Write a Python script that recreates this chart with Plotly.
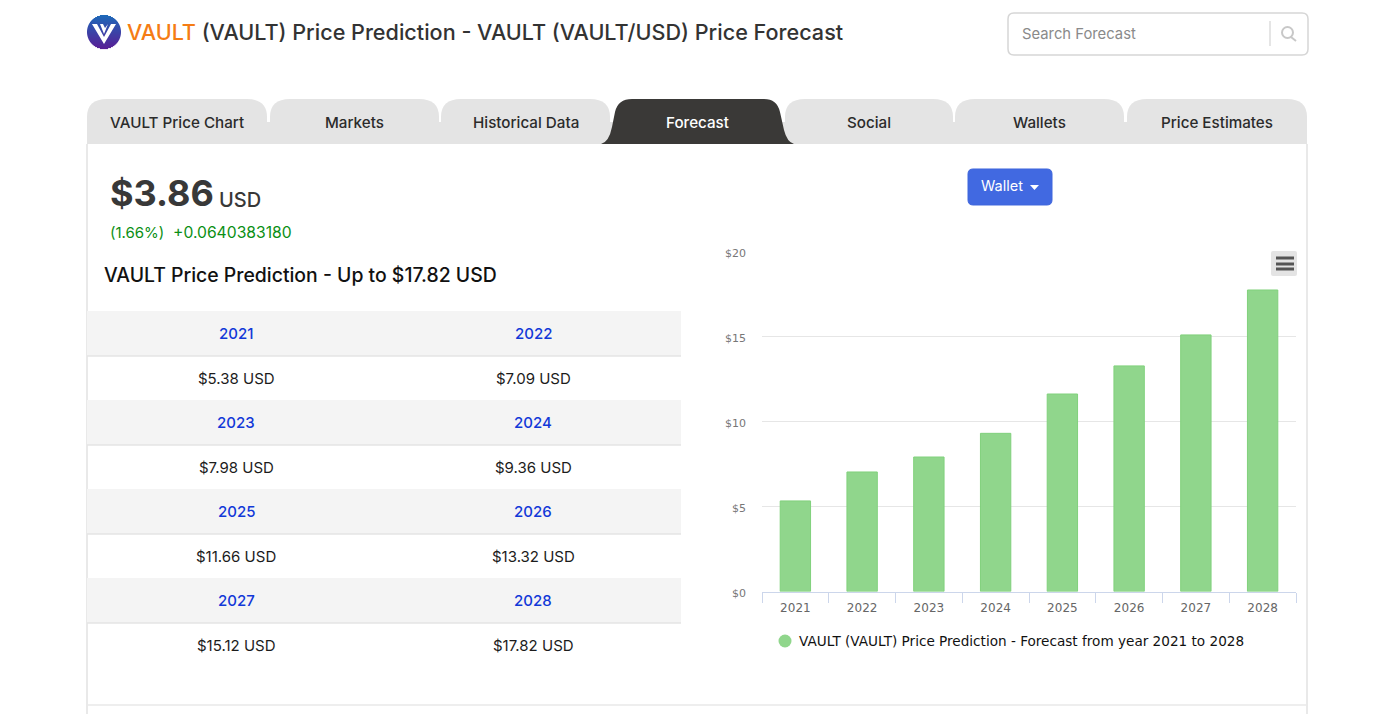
import plotly.graph_objs as go

W = 1400
H = 714

years = ['2021', '2022', '2023', '2024', '2025', '2026', '2027', '2028']
table_prices = [5.38, 7.09, 7.98, 9.36, 11.66, 13.32, 15.12, 17.82]
# bar heights, they sit a little under the table figures
bar_values = [5.32, 7.02, 7.90, 9.29, 11.60, 13.25, 15.07, 17.71]
tab_names = ['VAULT Price Chart', 'Markets', 'Historical Data', 'Forecast', 'Social', 'Wallets', 'Price Estimates']
tab_lefts = [87, 270, 441, 612, 785, 955, 1127]
tab_rights = [267, 439, 610, 782, 953, 1124, 1307]
y_ticks = [0, 5, 10, 15, 20]
y_tick_labels = ['$0', '$5', '$10', '$15', '$20']
legend_name = 'VAULT (VAULT) Price Prediction - Forecast from year 2021 to 2028'

FONT = 'Inter'
CHART_FONT = 'DejaVu Sans'
GREEN = '#90d68c'


def px(x):
    return x / W


def py(y):
    return 1 - y / H


def path(*parts):
    # letters stay, (x, y) pairs in page pixels become paper fractions
    out = []
    for p in parts:
        if isinstance(p, str):
            out.append(p)
        else:
            out.append('%.5f,%.5f' % (px(p[0]), py(p[1])))
    return ' '.join(out)


shapes = []
annotations = []


def add_rect(x0, y0, x1, y1, fill, line=None, width=1):
    shapes.append(dict(type='rect', xref='paper', yref='paper', x0=px(x0), x1=px(x1), y0=py(y0), y1=py(y1),
                       fillcolor=fill, line=dict(color=line, width=width if line else 0), layer='below'))


def add_line(x0, y0, x1, y1, color, width=1):
    shapes.append(dict(type='line', xref='paper', yref='paper', x0=px(x0), x1=px(x1), y0=py(y0), y1=py(y1),
                       line=dict(color=color, width=width), layer='below'))


def add_path(d, fill, line=None, width=1, layer='below'):
    shapes.append(dict(type='path', xref='paper', yref='paper', path=d, fillcolor=fill,
                       line=dict(color=line, width=width if line else 0), layer=layer))


def add_text(x, y, text, size, color, anchor='center', weight=400, family=FONT):
    annotations.append(dict(xref='paper', yref='paper', x=px(x), y=py(y), text=text, showarrow=False,
                            xanchor=anchor, yanchor='middle', borderpad=0,
                            font=dict(family=family, size=size, color=color, weight=weight)))


def round_box(x0, y0, x1, y1, r):
    return path('M', (x0 + r, y0), 'L', (x1 - r, y0), 'Q', (x1, y0), (x1, y0 + r), 'L', (x1, y1 - r),
                'Q', (x1, y1), (x1 - r, y1), 'L', (x0 + r, y1), 'Q', (x0, y1), (x0, y1 - r), 'L', (x0, y0 + r),
                'Q', (x0, y0), (x0 + r, y0), 'Z')


# panel border
add_line(87, 144, 87, 714, '#e2e2e2', 1.5)
add_line(1307, 144, 1307, 714, '#e2e2e2', 1.5)
add_line(87, 705, 1307, 705, '#e8e8e8', 1.5)

# logo, shapes have no gradient so it is built from thin strips
logo_top = (29, 104, 184)
logo_bottom = (88, 30, 150)
for k in range(34):
    y0 = 15 + k
    mid = y0 + 0.5 - 32
    half = max(17 ** 2 - mid ** 2, 0) ** 0.5
    mix = k / 33
    col = tuple(round(a + (b - a) * mix) for a, b in zip(logo_top, logo_bottom))
    add_rect(104 - half, y0, 104 + half, y0 + 1.1, 'rgb%s' % (col,))
add_path(path('M', (92, 24), 'L', (97, 24), 'L', (104, 37), 'L', (111, 24), 'L', (116, 24), 'L', (104, 44), 'Z'), '#ffffff')
add_path(path('M', (100, 24), 'L', (103, 24), 'L', (105, 28), 'L', (108, 24), 'L', (104, 34), 'Z'), '#ffffff')

# title
add_text(126, 32, '<span style="color:#f57c14">VAULT</span> (VAULT) Price Prediction - VAULT (VAULT/USD) Price Forecast',
         21.6, '#333333', 'left', 500)

# search box
shapes.append(dict(type='path', xref='paper', yref='paper', path=round_box(1008, 13, 1308, 55, 6),
                   fillcolor='#ffffff', line=dict(color='#d6d6d6', width=1.5), layer='below'))
add_line(1270, 21, 1270, 46, '#dddddd', 1.5)
add_text(1021, 34, 'Search Forecast', 14.8, '#8a8a8a', 'left')
shapes.append(dict(type='circle', xref='paper', yref='paper', x0=px(1282), x1=px(1293), y0=py(27), y1=py(38),
                   fillcolor='rgba(0,0,0,0)', line=dict(color='#c8c8c8', width=2), layer='below'))
add_line(1291, 37, 1296, 41, '#c8c8c8', 2)

# tabs
for name, x0, x1 in zip(tab_names, tab_lefts, tab_rights):
    if name == 'Forecast':
        continue
    add_path(path('M', (x0, 144), 'L', (x0, 117), 'Q', (x0, 99), (x0 + 20, 99), 'L', (x1 - 20, 99),
                  'Q', (x1, 99), (x1, 117), 'L', (x1, 144), 'Z'), '#e4e4e4')
add_rect(87, 122, 1307, 144, '#e4e4e4')
add_path(path('M', (601, 144), 'Q', (609, 142), (612, 127), 'L', (615, 112), 'Q', (618, 99), (632, 99),
              'L', (764, 99), 'Q', (777, 99), (780, 112), 'L', (784, 130), 'Q', (787, 142), (794, 144), 'Z'), '#3a3937')
for name, x0, x1 in zip(tab_names, tab_lefts, tab_rights):
    add_text((x0 + x1) / 2, 122, name, 15.2,
             '#ffffff' if name == 'Forecast' else '#2b2b2b', 'center', 500)

# price header
add_text(109, 193, '$3.86', 36, '#383838', 'left', 700)
add_text(218, 200, 'USD', 20, '#383838', 'left', 500)
add_text(109, 233, '(1.66%)', 15, '#0b8f14', 'left')
add_text(172, 233, '+' + '0.0640383180', 15.7, '#0b8f14', 'left')
add_text(103, 275, 'VAULT Price Prediction - Up to $%.2f USD' % table_prices[-1], 19.4, '#111111', 'left', 500)

# price table, two years per row
for i in range(0, len(years), 2):
    row = i // 2
    top = 311 + row * 89
    add_rect(87, top, 681, top + 45, '#f4f4f4')
    add_line(87, top + 45, 681, top + 45, '#e4e4e4', 1.5)
    for j, cx in enumerate([236, 533]):
        add_text(cx, top + 22, years[i + j], 15, '#1238d8', 'center', 500)
        add_text(cx, top + 67, '$%.2f USD' % table_prices[i + j], 15, '#1c1c1c')

# wallet button
shapes.append(dict(type='path', xref='paper', yref='paper', path=round_box(968, 169, 1052, 205, 5),
                   fillcolor='#4169e1', line=dict(color='#3f66dc', width=1), layer='below'))
add_text(1002, 186, 'Wallet', 14.5, '#ffffff')
add_path(path('M', (1030, 185), 'L', (1039, 185), 'L', (1034.5, 190), 'Z'), '#ffffff')

# chart menu icon
add_path(round_box(1271, 251, 1297, 276, 2), '#e4e4e4', layer='above')
for y in [258, 264, 269]:
    add_line(1276, y, 1294, y, '#555555', 3)
    shapes[-1]['layer'] = 'above'

# legend dot sits closer to its text than the plotly legend allows
shapes.append(dict(type='circle', xref='paper', yref='paper', x0=px(778.5), x1=px(791.5), y0=py(634.5), y1=py(647.5),
                   fillcolor=GREEN, line=dict(width=0), layer='below'))

bars = go.Bar(x=years, y=bar_values, width=0.455, marker=dict(color=GREEN, line=dict(color='#80d17c', width=1)),
              showlegend=False)
legend_entry = go.Scatter(x=[None], y=[None], mode='markers', name=legend_name,
                          marker=dict(color='rgba(0,0,0,0)', size=1))

fig = go.Figure(data=[bars, legend_entry])
fig.update_layout(
    width=W,
    height=H,
    margin=dict(l=0, r=0, t=0, b=0, pad=0, autoexpand=False),
    paper_bgcolor='#ffffff',
    plot_bgcolor='rgba(0,0,0,0)',
    shapes=shapes,
    annotations=annotations,
    font=dict(family=CHART_FONT),
    legend=dict(x=px(759), y=py(641), xanchor='left', yanchor='middle', orientation='h', bgcolor='rgba(0,0,0,0)',
                font=dict(family=CHART_FONT, size=13.6, color='#111111', weight=500), itemwidth=30),
    xaxis=dict(domain=[px(762), px(1296)], type='category', categoryorder='array', categoryarray=years,
               tickson='boundaries', ticks='outside', ticklen=10, tickwidth=1.3, tickcolor='#ccd6eb',
               showline=True, linecolor='#ccd6eb', linewidth=1.3, showgrid=False, zeroline=False,
               ticklabelstandoff=5, tickfont=dict(family=CHART_FONT, size=12, color='#666666')),
    yaxis=dict(domain=[py(591.5), py(251)], range=[0, 20], tickvals=y_ticks, ticktext=y_tick_labels, ticks='',
               showgrid=True, gridcolor='#e6e6e6', gridwidth=1.3, zeroline=False, showline=False,
               ticklabelstandoff=15, ticklabelshift=2, tickfont=dict(family=CHART_FONT, size=11, color='#777777')),
)

fig.write_html("out.html", config=dict(displayModeBar=False), post_script="document.body.style.margin='0';")
